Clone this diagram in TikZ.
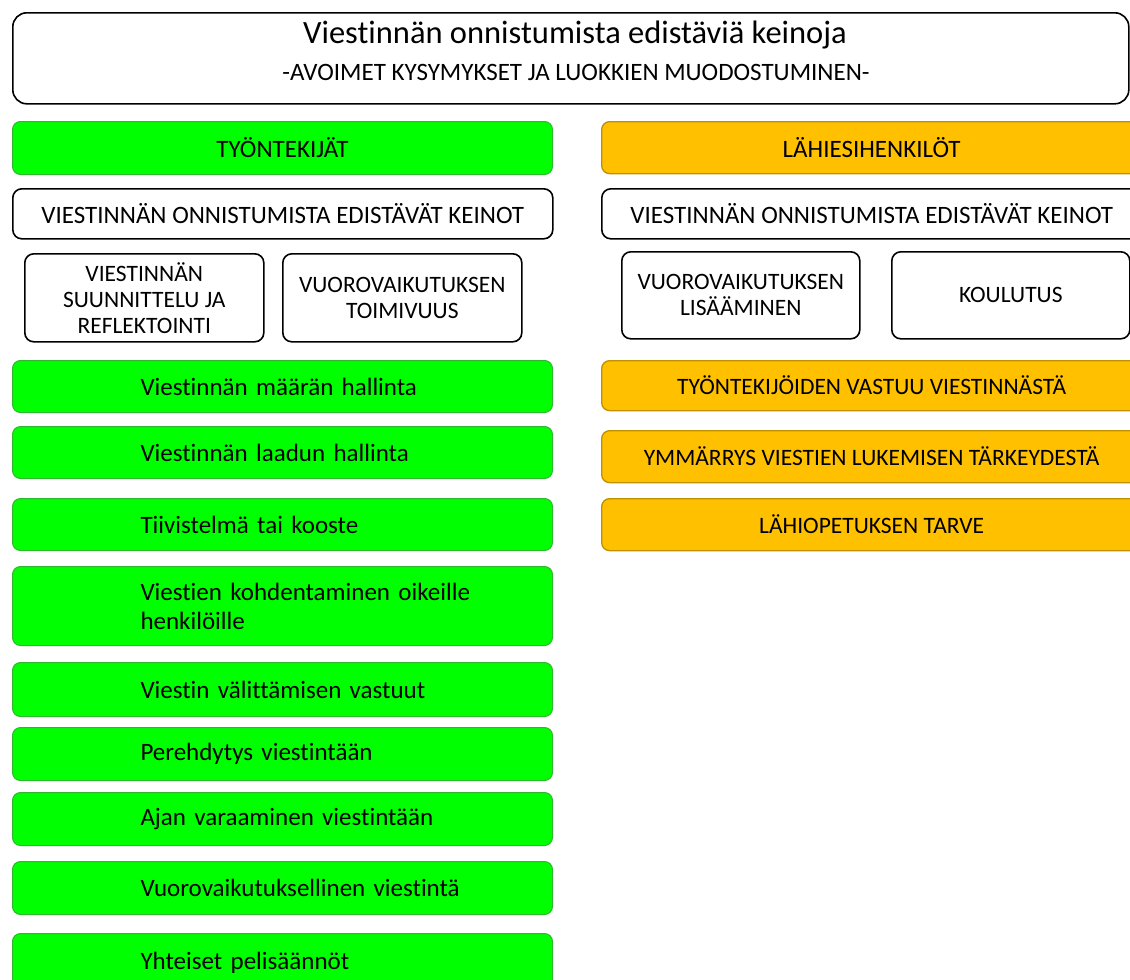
\documentclass[tikz,border=0pt]{standalone}
\usepackage{fontspec}
\setmainfont{Carlito}[Ligatures=NoCommon]
\usetikzlibrary{positioning}
\definecolor{boxgreen}{HTML}{00FF00}
\definecolor{greenline}{HTML}{2DB82D}
\definecolor{boxorange}{HTML}{FFC000}
\definecolor{orangeline}{HTML}{BF9000}

\begin{document}
\begin{tikzpicture}[x=1pt,y=-1pt,
  every node/.style={inner sep=0pt, font=\fontsize{25}{29}\selectfont},
  wbox/.style={draw=black, line width=1.6pt, fill=white, rounded corners=9pt, align=center},
  smallbox/.style={wbox, minimum width=239pt, minimum height=88pt, anchor=north west,
    font=\fontsize{23.5}{26}\selectfont},
  gbox/.style={draw=greenline, line width=1pt, fill=boxgreen, rounded corners=8pt,
    minimum width=540pt, minimum height=53pt, text width=284pt, align=left, anchor=north west},
  ghead/.style={gbox, align=center},
  obox/.style={draw=orangeline, line width=1.3pt, fill=boxorange, rounded corners=8pt,
    minimum width=540pt, minimum height=52pt, align=center, anchor=north west,
    font=\fontsize{23.5}{26}\selectfont}]

  \useasboundingbox (0,0) rectangle (1130,980);
  \clip (0,0) rectangle (1130,980);

  % title
  \node[wbox, minimum width=1116pt, minimum height=91pt, rounded corners=14pt, anchor=north west] (title) at (12,12) {};
  \node (titletext) at (575,35) {\fontsize{32.5}{36}\selectfont Viestinnän onnistumista edistäviä keinoja};
  \node (subtitle) at (576,72) {\fontsize{25}{28}\selectfont -AVOIMET KYSYMYKSET JA LUOKKIEN MUODOSTUMINEN-};

  % left column: employees
  \node[ghead] (tyo) at (12,121) {TYÖNTEKIJÄT};
  \node[wbox, minimum width=540pt, minimum height=50pt, anchor=north west] (keinotT) at (12,188) {VIESTINNÄN ONNISTUMISTA EDISTÄVÄT KEINOT};
  \node[smallbox] (suunn) at (24,253) {VIESTINNÄN\\SUUNNITTELU JA\\REFLEKTOINTI};
  \node[smallbox] (toimiv) at (282,253) {VUOROVAIKUTUKSEN\\TOIMIVUUS};

  \node[gbox, minimum height=52pt] (maara) at (12,360) {Viestinnän määrän hallinta};
  \node[gbox, minimum height=52pt] (laatu) at (12,426) {Viestinnän laadun hallinta};
  \node[gbox, minimum height=52pt] (tiivis) at (12,498) {Tiivistelmä tai kooste};
  \node[gbox, minimum height=79pt] (kohd) at (12,566) {\mbox{Viestien kohdentaminen oikeille}\\henkilöille};
  \node[gbox, minimum height=54pt] (vastuu) at (12,662) {\mbox{Viestin välittämisen vastuut}};
  \node[gbox] (pereh) at (12,727) {Perehdytys viestintään};
  \node[gbox] (aika) at (12,792) {\mbox{Ajan varaaminen viestintään}};
  \node[gbox] (vuoro) at (12,861) {\mbox{Vuorovaikutuksellinen viestintä}};
  \node[gbox, minimum height=58pt] (pelis) at (12,933) {Yhteiset pelisäännöt};

  % right column: close supervisors
  \node[obox, font=\fontsize{25}{29}\selectfont] (lahi) at (601,121) {LÄHIESIHENKILÖT};
  \node[wbox, minimum width=540pt, minimum height=50pt, anchor=north west] (keinotL) at (601,188) {VIESTINNÄN ONNISTUMISTA EDISTÄVÄT KEINOT};
  \node[smallbox, minimum width=238pt, minimum height=87pt] (lisaa) at (621,251) {VUOROVAIKUTUKSEN\\LISÄÄMINEN};
  \node[smallbox, minimum width=238pt, minimum height=87pt] (koul) at (891,251) {KOULUTUS};

  \node[obox, minimum height=50pt] (vastuuL) at (601,360) {TYÖNTEKIJÖIDEN VASTUU VIESTINNÄSTÄ};
  \node[obox] (ymmar) at (601,430) {YMMÄRRYS VIESTIEN LUKEMISEN TÄRKEYDESTÄ};
  \node[obox] (lahiop) at (601,498) {LÄHIOPETUKSEN TARVE};
\end{tikzpicture}
\end{document}
